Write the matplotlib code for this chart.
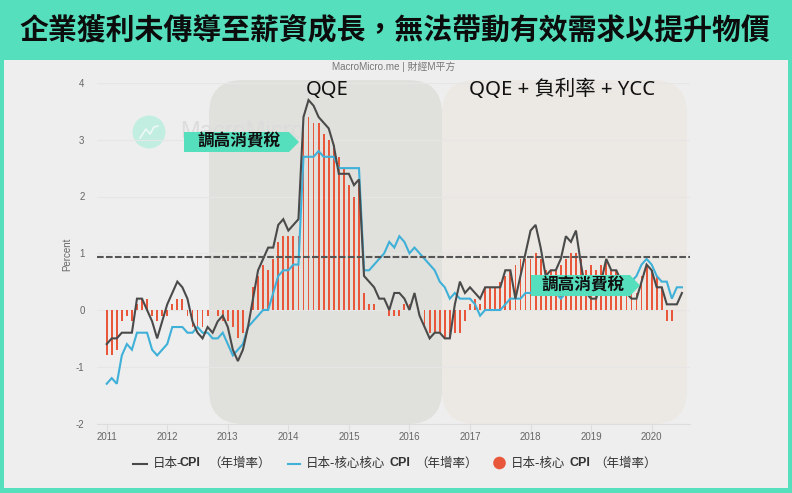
import matplotlib
matplotlib.use("Agg")
import matplotlib.pyplot as plt
from matplotlib.patches import FancyBboxPatch, Polygon, Circle, Rectangle
import numpy as np

plt.rcParams['font.family'] = ['Noto Sans CJK TC', 'DejaVu Sans']

# full-width comma and brackets written as escapes
title = "企業獲利未傳導至薪資成長\uff0c無法帶動有效需求以提升物價"
legend_tail = "\uff08年增率\uff09"
year_labels = ["2011", "2012", "2013", "2014", "2015", "2016", "2017", "2018", "2019", "2020"]
y_ticks = [-2, -1, 0, 1, 2, 3, 4]

# monthly, 2011-01 to 2020-07
cpi = [-0.6, -0.5, -0.5, -0.4, -0.4, -0.4, 0.2, 0.2, 0.0, -0.2, -0.5, -0.2,
       0.1, 0.3, 0.5, 0.4, 0.2, -0.2, -0.4, -0.5, -0.3, -0.4, -0.2, -0.1,
       -0.3, -0.7, -0.9, -0.7, -0.3, 0.2, 0.7, 0.9, 1.1, 1.1, 1.5, 1.6,
       1.4, 1.5, 1.6, 3.4, 3.7, 3.6, 3.4, 3.3, 3.2, 2.9, 2.4, 2.4,
       2.4, 2.2, 2.3, 0.6, 0.5, 0.4, 0.2, 0.2, 0.0, 0.3, 0.3, 0.2,
       0.0, 0.3, -0.1, -0.3, -0.5, -0.4, -0.4, -0.5, -0.5, 0.1, 0.5, 0.3,
       0.4, 0.3, 0.2, 0.4, 0.4, 0.4, 0.4, 0.7, 0.7, 0.2, 0.6, 1.0,
       1.4, 1.5, 1.1, 0.6, 0.7, 0.7, 0.9, 1.3, 1.2, 1.4, 0.8, 0.3,
       0.2, 0.2, 0.5, 0.9, 0.7, 0.7, 0.5, 0.3, 0.2, 0.2, 0.5, 0.8,
       0.7, 0.4, 0.4, 0.1, 0.1, 0.1, 0.3]

core_core = [-1.3, -1.2, -1.3, -0.8, -0.6, -0.7, -0.4, -0.4, -0.4, -0.7, -0.8, -0.7,
             -0.6, -0.3, -0.3, -0.3, -0.4, -0.4, -0.3, -0.4, -0.4, -0.5, -0.5, -0.4,
             -0.6, -0.8, -0.7, -0.6, -0.3, -0.2, -0.1, 0.0, 0.0, 0.3, 0.6, 0.7,
             0.7, 0.8, 0.8, 2.7, 2.7, 2.7, 2.8, 2.7, 2.7, 2.7, 2.5, 2.5,
             2.5, 2.5, 2.5, 0.7, 0.7, 0.8, 0.9, 1.0, 1.2, 1.1, 1.3, 1.2,
             1.0, 1.1, 1.0, 0.9, 0.8, 0.7, 0.5, 0.4, 0.2, 0.3, 0.2, 0.2,
             0.2, 0.1, -0.1, 0.0, 0.0, 0.0, 0.0, 0.1, 0.2, 0.2, 0.2, 0.3,
             0.3, 0.4, 0.4, 0.4, 0.3, 0.3, 0.2, 0.3, 0.3, 0.4, 0.4, 0.3,
             0.3, 0.3, 0.4, 0.4, 0.4, 0.4, 0.4, 0.4, 0.5, 0.6, 0.8, 0.9,
             0.8, 0.6, 0.5, 0.5, 0.2, 0.4, 0.4]

core = [-0.8, -0.8, -0.7, -0.2, -0.1, -0.2, 0.1, 0.2, 0.2, -0.1, -0.2, -0.1,
        -0.1, 0.1, 0.2, 0.2, -0.1, -0.3, -0.3, -0.3, -0.1, 0.0, -0.1, -0.2,
        -0.2, -0.3, -0.5, -0.4, 0.0, 0.4, 0.6, 0.8, 0.7, 0.9, 1.2, 1.3,
        1.3, 1.3, 1.3, 3.2, 3.4, 3.3, 3.3, 3.1, 3.0, 2.9, 2.7, 2.5,
        2.2, 2.0, 2.2, 0.3, 0.1, 0.1, 0.0, 0.0, -0.1, -0.1, -0.1, 0.1,
        0.1, 0.0, 0.0, -0.3, -0.4, -0.4, -0.4, -0.5, -0.5, -0.4, -0.4, -0.2,
        0.1, 0.2, 0.1, 0.4, 0.4, 0.4, 0.5, 0.6, 0.7, 0.8, 0.9, 0.9,
        0.9, 1.0, 0.9, 0.7, 0.7, 0.7, 0.8, 0.9, 1.0, 1.0, 0.9, 0.7,
        0.8, 0.7, 0.8, 0.9, 0.7, 0.7, 0.6, 0.5, 0.4, 0.3, 0.6, 0.8,
        0.7, 0.6, 0.4, -0.2, -0.2, 0.0, 0.0]

target = 0.93

TEAL = "#56dfbd"
BLACK = "#4a4a4a"
BLUE = "#3fb0d8"
RED = "#e9573a"
LATIN = ["Liberation Sans", "Noto Sans CJK TC"]
HEADING = ["Noto Sans", "Noto Sans CJK TC"]

W, H = 792, 493
fig = plt.figure(figsize=(W / 100, H / 100), dpi=100, facecolor=TEAL)

# background layer in pixels
bg = fig.add_axes([0, 0, 1, 1], zorder=0)
bg.set_xlim(0, W)
bg.set_ylim(H, 0)
bg.axis("off")
bg.add_patch(Rectangle((4, 60), 784, 428, fc="#eeeeee", ec="none"))
bg.add_patch(FancyBboxPatch((209 + 34, 80 + 34), 233 - 68, 344 - 68, boxstyle="round,pad=34,rounding_size=34",
                            fc="#e0e0dc", ec="none"))
bg.add_patch(FancyBboxPatch((442 + 34, 80 + 34), 245 - 68, 344 - 68, boxstyle="round,pad=34,rounding_size=34",
                            fc="#ece9e4", ec="none"))
bg.add_patch(Circle((149, 132), 16.5, fc="#c2eee2", ec="none"))
bg.plot([140, 146, 150, 154, 158], [138, 129, 134, 127, 126], color="#eef8f5", lw=1.2)
bg.text(180, 132, "MacroMicro", fontsize=17, color="#dcdcdc", ha="left", va="center", family=LATIN)

# main chart
ax = fig.add_axes([97 / W, 1 - 423.5 / H, 593 / W, 340.5 / H], zorder=1)
ax.patch.set_alpha(0)
months = np.arange(len(cpi))
ax.bar(months, core, width=0.36, color=RED, zorder=2)
ax.plot(months, core_core, color=BLUE, lw=1.5, zorder=3, solid_joinstyle="miter")
ax.plot(months, cpi, color=BLACK, lw=1.5, zorder=4, solid_joinstyle="miter")
ax.axhline(target, color="#555555", lw=1.5, ls=(0, (3.2, 1.1)), zorder=5)

ax.set_xlim(-1.92, 115.6)
ax.set_ylim(-2, 4)
ax.set_xticks(np.arange(len(year_labels)) * 12)
ax.set_xticklabels(year_labels, fontsize=7, color="#666666", family=LATIN)
ax.set_yticks(y_ticks)
ax.set_yticklabels([str(v) for v in y_ticks], fontsize=7, color="#666666", family=LATIN)
ax.tick_params(axis="x", length=5.5, color="#dddddd", pad=0.5, width=0.8)
ax.tick_params(axis="y", length=0, pad=9)
ax.grid(axis="y", color="#e6e6e6", lw=0.8, zorder=0)
ax.set_axisbelow(True)
for s in ["top", "right", "left"]:
    ax.spines[s].set_visible(False)
ax.spines["bottom"].set_color("#dddddd")

# top layer, annotations and legend in pixels
top = fig.add_axes([0, 0, 1, 1], zorder=2)
top.patch.set_alpha(0)
top.set_xlim(0, W)
top.set_ylim(H, 0)
top.axis("off")

top.text(395, 30.5, title, fontsize=20.8, fontweight="bold", color="#0c0c0c", ha="center", va="center")
top.text(394, 66.5, "MacroMicro.me | 財經M平方", fontsize=7.1, color="#777777", ha="center", va="center", family=LATIN)
top.text(67, 254, "Percent", fontsize=7, color="#666666", rotation=90, ha="center", va="center", family=LATIN)
top.text(327, 90, "QQE", fontsize=14.5, color="#111111", ha="center", va="center", family=HEADING)
top.text(562, 90, "QQE + 負利率 + YCC", fontsize=14.7, color="#111111", ha="center", va="center", family=HEADING)


def tax_arrow(x0, x1, y0, y1):
    top.add_patch(Polygon([(x0, y0), (x1 - 10, y0), (x1, (y0 + y1) / 2), (x1 - 10, y1), (x0, y1)],
                          fc=TEAL, ec="none"))
    top.text((x0 + x1) / 2 - 2, (y0 + y1) / 2, "調高消費稅", fontsize=12, fontweight="bold",
             color="#111111", ha="center", va="center")


tax_arrow(184, 299, 132, 152)
tax_arrow(531, 640, 275, 296)

# legend
LEG_Y = 463.5
top.plot([133, 147], [LEG_Y, LEG_Y], color=BLACK, lw=1.5)
top.plot([288, 300], [LEG_Y, LEG_Y], color=BLUE, lw=1.5)
top.add_patch(Circle((499.5, 463), 6.3, fc=RED, ec="none"))


def legend_text(x, head, bold_x, tail_x):
    top.text(x, LEG_Y, head, fontsize=9, color="#333333", ha="left", va="center")
    top.text(bold_x, LEG_Y, "CPI", fontsize=9, color="#333333", ha="left", va="center", fontweight="bold",
             family=LATIN)
    top.text(tail_x, LEG_Y, legend_tail, fontsize=9, color="#333333", ha="left", va="center")


legend_text(152.5, "日本-", 180, 208.5)
legend_text(306, "日本-核心核心", 389, 415.5)
legend_text(511, "日本-核心", 569, 594)

fig.savefig("out.png", dpi=100, facecolor=TEAL)
